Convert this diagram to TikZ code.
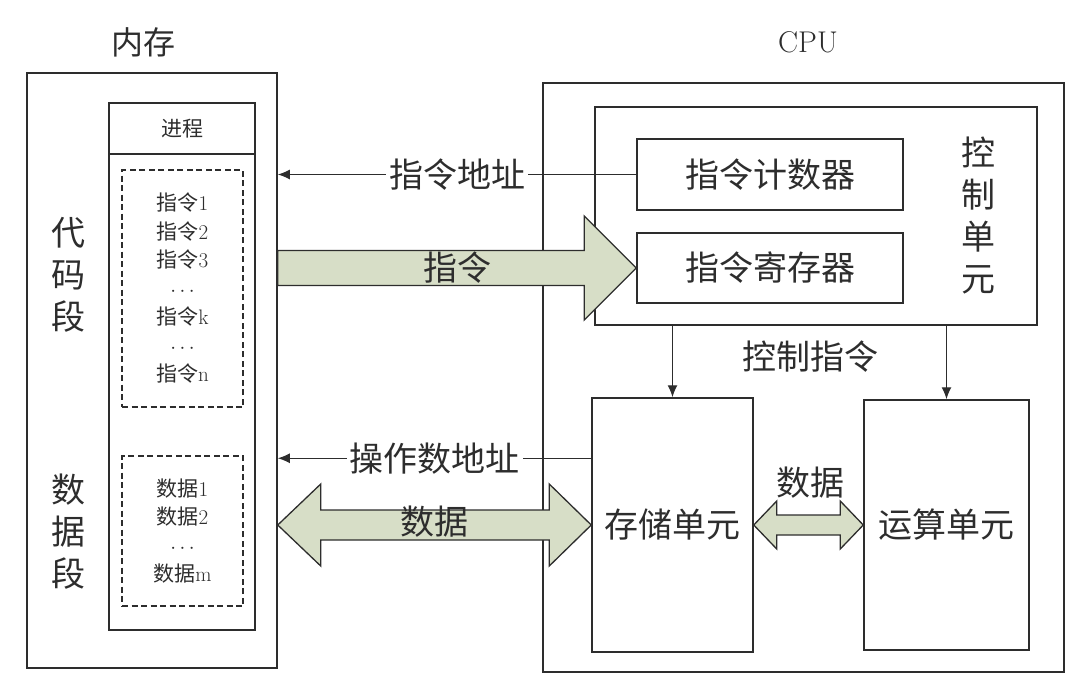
\documentclass[tikz,border=0pt]{standalone}
\usepackage{fontspec}
\newfontfamily\cjk{Noto Sans CJK SC}
\usepackage{xcolor}
\usetikzlibrary{calc,arrows.meta}
\definecolor{linegray}{RGB}{45,45,45}
\definecolor{busgreen}{RGB}{215,222,199}
\tikzset{
  unitbox/.style={draw=linegray, line width=1.5pt, inner sep=0pt},
  segbox/.style={draw=linegray, line width=1.2pt, dash pattern=on 6pt off 3.5pt, inner sep=0pt},
  bus/.style={draw=linegray, line width=1.3pt, fill=busgreen, line join=miter},
  sig/.style={draw=linegray, line width=1.3pt, -{Latex[length=12pt,width=10pt]}},
  bigtext/.style={font=\cjk\fontsize{34}{42}\selectfont, text=linegray, align=center},
  smalltext/.style={font=\fontsize{21}{28.5}\selectfont, text=linegray, align=center},
}

\begin{document}
\begin{tikzpicture}[x=1pt,y=-1pt]
    \useasboundingbox (0,0) rectangle (1080,691);
    \node (memlabel) [bigtext, font=\cjk\fontsize{32}{32}\selectfont] at (143,42) {内存};
    \node (cpulabel) [bigtext, font=\fontsize{30}{30}\selectfont] at (808,42) {CPU};

    \node (mem) [unitbox, minimum width=250, minimum height=595] at (152,370.5) {};
    \node (proc) [unitbox, minimum width=146, minimum height=527] at (182,366.5) {};
    \node (prochead) [unitbox, smalltext, minimum width=146, minimum height=51, anchor=north] at (proc.north) {{\cjk 进程}};
    \node (code) [segbox, smalltext, minimum width=121, minimum height=237] at (182.5,288.5) {{\cjk 指令}1\\{\cjk 指令}2\\{\cjk 指令}3\\$\cdots$\\{\cjk 指令}k\\$\cdots$\\{\cjk 指令}n};
    \node (data) [segbox, smalltext, minimum width=121, minimum height=150] at (182.5,531) {{\cjk 数据}1\\{\cjk 数据}2\\$\cdots$\\{\cjk 数据}m};
    \node (codelabel) [bigtext] at (68,275) {代\\码\\段};
    \node (datalabel) [bigtext] at (68,532) {数\\据\\段};

    \node (cpu) [unitbox, minimum width=521, minimum height=589] at (803.5,377.5) {};
    \node (ctrl) [unitbox, minimum width=442, minimum height=218] at (816,216) {};
    \node (ipc) [unitbox, bigtext, minimum width=266, minimum height=71] at (770,174.5) {指令计数器};
    \node (ireg) [unitbox, bigtext, minimum width=266, minimum height=70] at (770,268) {指令寄存器};
    \node (ctrllabel) [bigtext] at (978,215.5) {控\\制\\单\\元};
    \node (stor) [unitbox, bigtext, minimum width=161, minimum height=254] at (672.5,525) {存储单元};
    \node (alu) [unitbox, bigtext, minimum width=165, minimum height=250] at (946.5,525) {运算单元};

    \draw[sig] (ipc.west) -- (mem.east |- ipc.west) node (addrlabel) [midway, bigtext, fill=white, inner sep=3pt] {指令地址};
    \coordinate (opaddr) at ($(stor.north west)+(0,61)$);
    \draw[sig] (opaddr) -- (opaddr -| mem.east) node (oplabel) [midway, bigtext, fill=white, inner sep=3pt] {操作数地址};
    \draw[sig] (ctrl.south -| stor.north) -- (stor.north);
    \draw[sig] (ctrl.south -| alu.north) -- (alu.north);
    \node (cmdlabel) [bigtext] at (810,357) {控制指令};

    \coordinate (instrin) at (mem.east |- ireg.west);
    \draw[bus] ($(instrin)+(0,-17.5)$) -- ($(ireg.west)+(-52,-17.5)$) -- ($(ireg.west)+(-52,-52)$) -- (ireg.west)
      -- ($(ireg.west)+(-52,52)$) -- ($(ireg.west)+(-52,17.5)$) -- ($(instrin)+(0,17.5)$) -- cycle;
    \node (instrlabel) [bigtext] at ($(instrin)!0.5!(ireg.west)$) {指令};

    \coordinate (datain) at (mem.east |- stor.west);
    \draw[bus] (datain) -- ($(datain)+(43,-41)$) -- ($(datain)+(43,-15)$) -- ($(stor.west)+(-42,-15)$) -- ($(stor.west)+(-42,-41)$)
      -- (stor.west) -- ($(stor.west)+(-42,41)$) -- ($(stor.west)+(-42,15)$) -- ($(datain)+(43,15)$) -- ($(datain)+(43,41)$) -- cycle;
    \node (datalabel2) [bigtext] at ($(datain)!0.5!(stor.west)+(0,-3)$) {数据};

    \draw[bus] (stor.east) -- ($(stor.east)+(23,-24)$) -- ($(stor.east)+(23,-10)$) -- ($(alu.west)+(-23,-10)$) -- ($(alu.west)+(-23,-24)$)
      -- (alu.west) -- ($(alu.west)+(-23,24)$) -- ($(alu.west)+(-23,10)$) -- ($(stor.east)+(23,10)$) -- ($(stor.east)+(23,24)$) -- cycle;
    \node (alulabel) [bigtext] at (810,483) {数据};
\end{tikzpicture}
\end{document}
